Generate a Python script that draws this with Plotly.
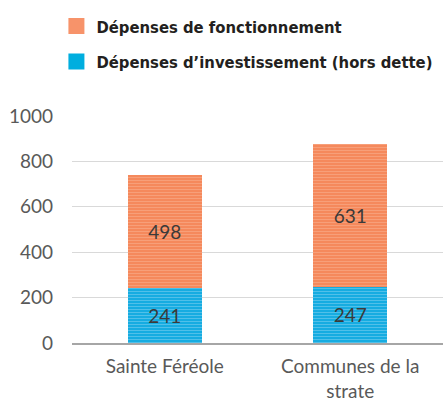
import plotly.graph_objects as go

categories = ["Sainte Féréole", "Communes de la<br>strate"]
investissement = [241, 247]
fonctionnement = [498, 631]
series_names = ["Dépenses de fonctionnement", "Dépenses d’investissement (hors dette)"]
y_ticks = [0, 200, 400, 600, 800, 1000]

ORANGE = "#F5895C"
BLUE = "#16ACE1"
TICKFONT = dict(family="Lato, Open Sans, sans-serif", size=19, color="#595959")
LABELFONT = dict(family="Lato, Open Sans, sans-serif", size=19, color="#3A3A3A")

fig = go.Figure()
fig.add_trace(go.Bar(
    x=categories, y=investissement, name=series_names[1], showlegend=False,
    marker=dict(color=BLUE, line=dict(width=0),
                pattern=dict(shape="-", size=3, solidity=0.33, fgcolor="#8CD4F0")),
    text=[str(v) for v in investissement], textposition="inside",
    insidetextanchor="middle", textangle=0, textfont=LABELFONT,
))
fig.add_trace(go.Bar(
    x=categories, y=fonctionnement, name=series_names[0], showlegend=False,
    marker=dict(color=ORANGE, line=dict(width=0),
                pattern=dict(shape="-", size=3, solidity=0.33, fgcolor="#F9B596")),
    text=[str(v) for v in fonctionnement], textposition="inside",
    insidetextanchor="middle", textangle=0, textfont=LABELFONT,
))
# legend entries (square markers)
for name, col, grp in [(series_names[0], "#F7936A", "a"), (series_names[1], "#00AEDF", "b")]:
    fig.add_trace(go.Scatter(
        x=[None], y=[None], mode="markers", name=name, legendgroup=grp,
        marker=dict(symbol="square", size=16, color=col),
    ))

fig.update_layout(
    width=444, height=402,
    margin=dict(l=72, r=1, t=116, b=59),
    barmode="stack", bargap=0.6,
    plot_bgcolor="white", paper_bgcolor="white",
    showlegend=True,
    legend=dict(
        x=-0.042, xanchor="left", y=1.472, yanchor="top",
        font=dict(family="DejaVu Sans Condensed, sans-serif",
                  size=16.5, color="#231F20", weight="bold"),
        tracegroupgap=11, itemsizing="trace", bgcolor="rgba(0,0,0,0)",
    ),
    xaxis=dict(
        showline=True, linecolor="#A6A6A6", linewidth=2, showgrid=False,
        ticks="", tickfont=TICKFONT, ticklabelstandoff=5, automargin=False,
    ),
    yaxis=dict(
        range=[0, 1000], tickvals=y_ticks, showgrid=True, gridcolor="#D9D9D9",
        gridwidth=1, zeroline=False, showline=False, ticks="", automargin=False,
        ticklabelstandoff=18, tickfont=TICKFONT,
    ),
)

fig.write_html("out.html", config={"displayModeBar": False},
               post_script="document.body.style.margin='0';")
